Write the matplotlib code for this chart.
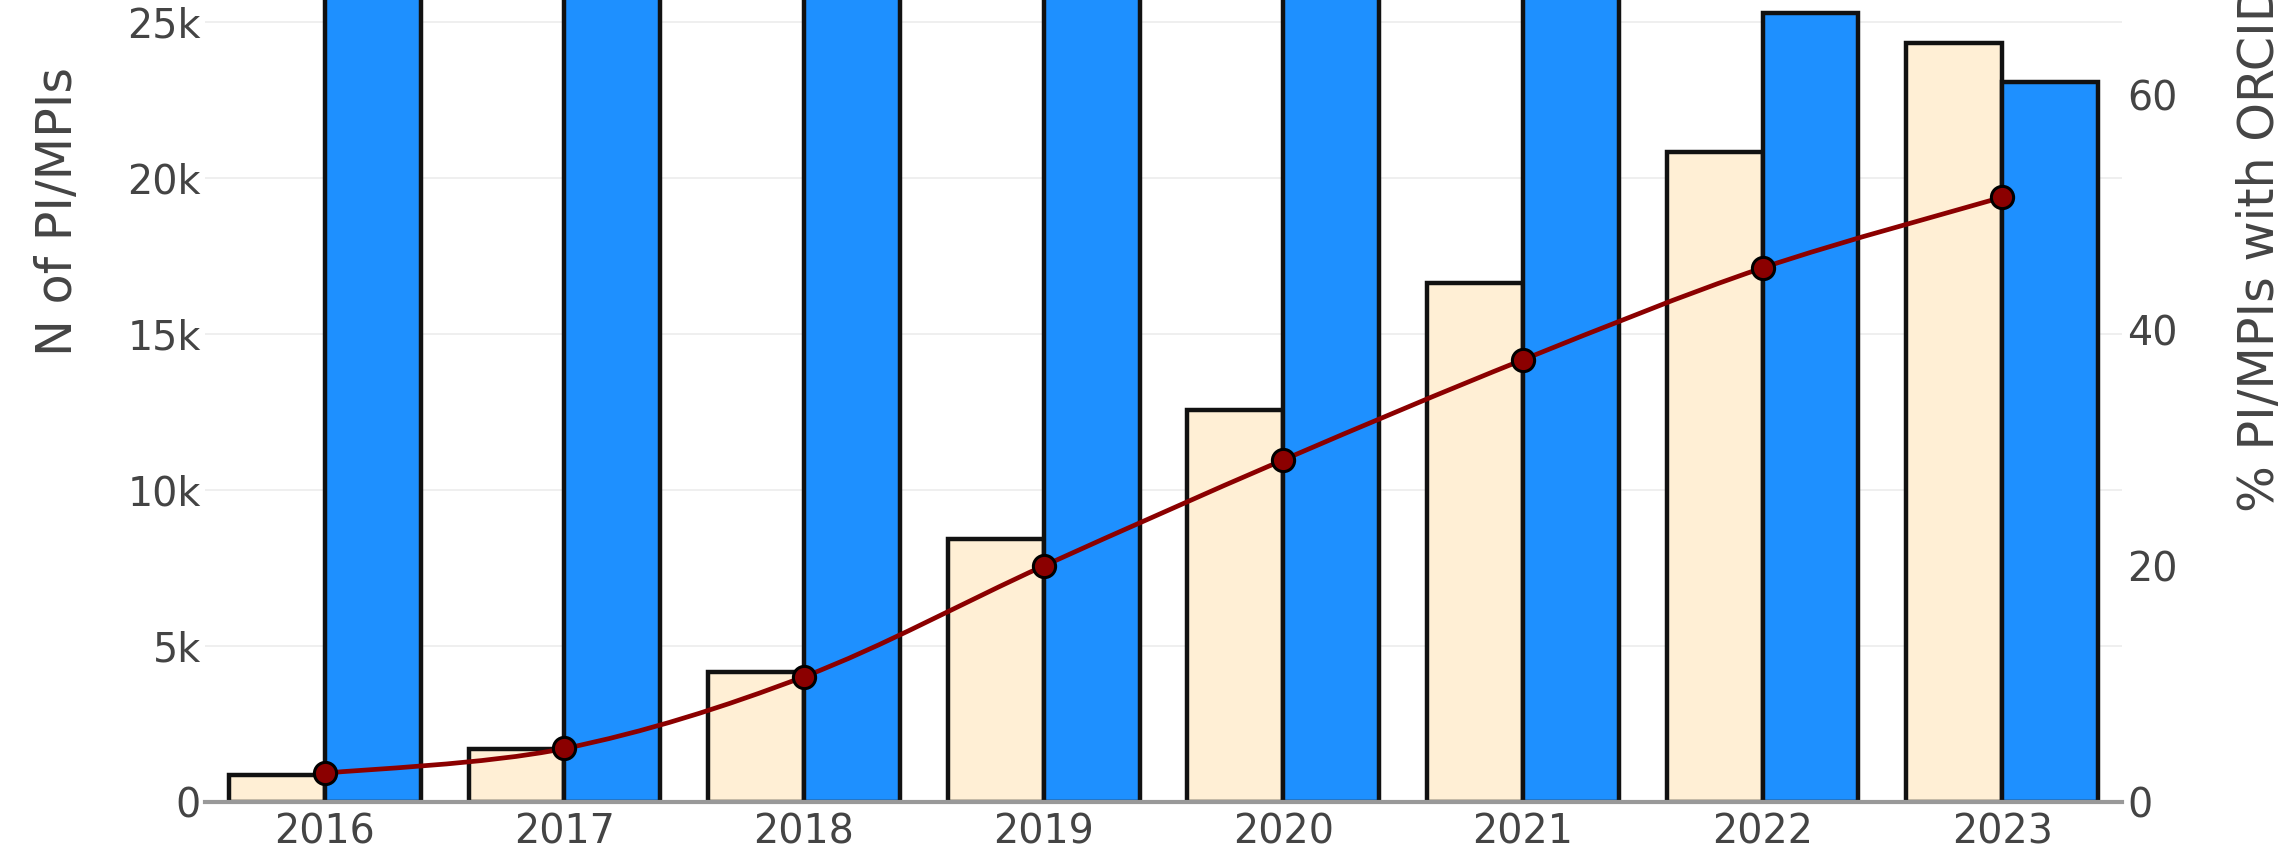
import numpy as np
import matplotlib
matplotlib.use('Agg')
import matplotlib.pyplot as plt
from matplotlib.path import Path
from matplotlib.patches import PathPatch

# values
years = ['2016', '2017', '2018', '2019', '2020', '2021', '2022', '2023']
with_orcid = [850, 1680, 4160, 8410, 12560, 16640, 20840, 24320]
# bars for 2016-2021 run past the top of the picture, these are estimates
without_orcid = [34600, 35600, 35100, 33600, 30700, 27700, 25300, 23090]
pct_orcid = [2.4, 4.5, 10.6, 20.0, 29.0, 37.5, 45.3, 51.3]

left_ticks = [0, 5000, 10000, 15000, 20000, 25000]
left_labels = ['0', '5k', '10k', '15k', '20k', '25k']
right_ticks = [0, 20, 40, 60]

W, H = 2286, 857
fig = plt.figure(figsize=(W / 100, H / 100), dpi=100)

x0, x1 = 205, 2122
y_zero = 801.5
ax = fig.add_axes([x0 / W, (H - y_zero) / H, (x1 - x0) / W, y_zero / H])
ax2 = ax.twinx()

x = np.arange(len(years))
tick_color = '#444444'

# bars
ax.bar(x - 0.2, with_orcid, width=0.4, color='#FFEFD5', edgecolor='#111111',
       linewidth=3.2, zorder=3)
ax.bar(x + 0.2, without_orcid, width=0.4, color='#1E90FF', edgecolor='#111111',
       linewidth=3.2, zorder=3)

ax.set_xlim(-0.5, len(years) - 0.5)
ax.set_ylim(0, 25706)
ax2.set_ylim(0, 68.04)

# grid + zero line
ax.set_yticks(left_ticks)
ax.set_yticklabels(left_labels)
ax.grid(axis='y', color='#eeeeee', linewidth=1.3, zorder=0)
ax.set_axisbelow(True)
ax.axhline(0, color='#999999', linewidth=3, zorder=4, clip_on=False)

ax.set_xticks(x)
ax.set_xticklabels(years)
ax.tick_params(axis='both', length=0, labelsize=28.5, labelcolor=tick_color)
ax.tick_params(axis='x', pad=8)
ax.tick_params(axis='y', pad=3)

ax2.set_yticks(right_ticks)
ax2.tick_params(axis='y', length=0, labelsize=28.5, labelcolor=tick_color, pad=4)

for a in (ax, ax2):
    for s in a.spines.values():
        s.set_visible(False)

# smooth line through the percentages (catmull-rom style)
pts = np.column_stack([x, pct_orcid]).astype(float)
ext = np.vstack([pts[0], pts, pts[-1]])
verts = [tuple(pts[0])]
codes = [Path.MOVETO]
for i in range(len(pts) - 1):
    p0, p1, p2, p3 = ext[i], ext[i + 1], ext[i + 2], ext[i + 3]
    c1 = p1 + (p2 - p0) / 6
    c2 = p2 - (p3 - p1) / 6
    verts += [tuple(c1), tuple(c2), tuple(p2)]
    codes += [Path.CURVE4] * 3
ax2.add_patch(PathPatch(Path(verts, codes), facecolor='none', edgecolor='#8B0000',
                        linewidth=3.4, zorder=5))
ax2.plot(x, pct_orcid, 'o', markersize=16, markerfacecolor='#8B0000',
         markeredgecolor='black', markeredgewidth=2.2, zorder=6)

# axis titles (the original plot is cropped, so place them by hand)
fig.text(58 / W, (H - 212) / H, 'N of PI/MPIs', rotation=90, ha='center',
         va='center', fontsize=35.5, color=tick_color)
fig.text(2260 / W, (H - 248) / H, '% PI/MPIs with ORCID', rotation=90,
         ha='center', va='center', fontsize=35.5, color=tick_color)

fig.savefig('out.png', dpi=100)
